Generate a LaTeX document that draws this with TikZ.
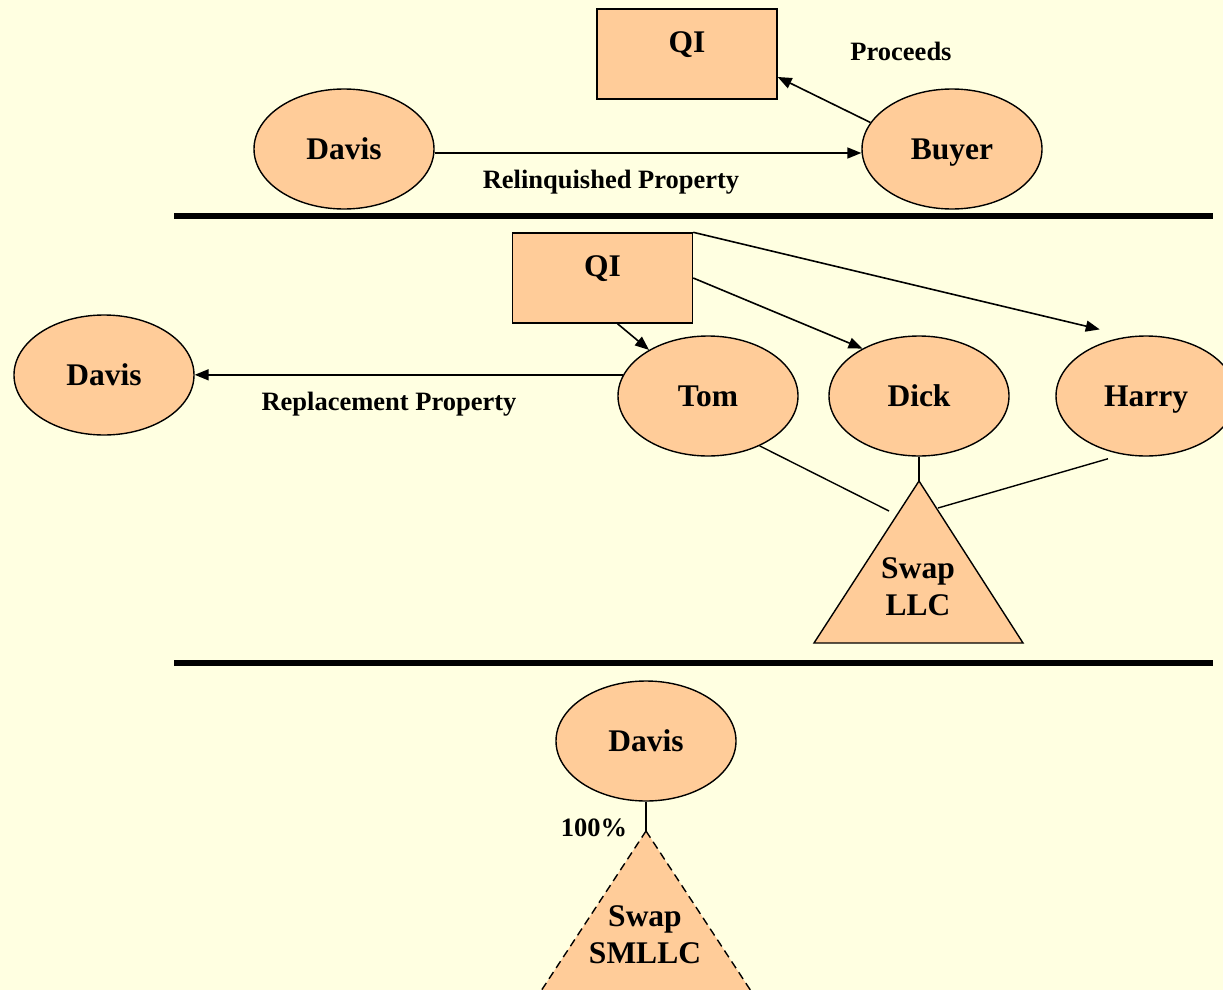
\documentclass[tikz,border=0pt]{standalone}
\usepackage{fontspec}
\setmainfont{Liberation Serif}
\usetikzlibrary{shapes.geometric,arrows.meta}
\definecolor{paper}{RGB}{255,255,225}
\definecolor{peach}{RGB}{255,204,153}
\newcommand{\namefont}{\fontsize{31.5}{37}\selectfont\bfseries}
\newcommand{\labelfont}{\fontsize{26.5}{30}\selectfont\bfseries}

\begin{document}
\begin{tikzpicture}[x=1pt,y=-1pt,
  party/.style={ellipse, draw, fill=peach, line width=1.4pt,
    minimum width=180pt, minimum height=120pt, inner sep=0pt,
    text height=21.3pt, text depth=0pt, font=\namefont},
  qibox/.style={rectangle, draw, fill=peach, line width=1.4pt,
    minimum width=180pt, minimum height=90pt, inner sep=0pt,
    text depth=24pt, font=\namefont},
  flow/.style={line width=1.6pt, -{Triangle[length=14pt,width=11pt]}},
  tie/.style={line width=1.4pt},
  caption/.style={font=\labelfont, inner sep=0pt},
  divider/.style={line width=5.5pt},
  venture/.style={fill=peach, draw, line width=1.4pt, line join=miter},
  ventext/.style={font=\namefont, align=center, inner sep=0pt},
]
\useasboundingbox (0,0) rectangle (1223,990);
\clip (0,0) rectangle (1223,990);
\fill[paper] (0,0) rectangle (1223,990);

% ---------- sale of the relinquished property ----------
\node[qibox] (qi1) at (687,54) {QI};
\node[party] (davis1) at (344,149) {Davis};
\node[party] (buyer) at (952,149) {Buyer};
\draw[flow] ([yshift=-4pt]davis1.east) -- ([yshift=-4pt]buyer.west);
\draw[flow] (buyer.162) -- ([yshift=-23pt]qi1.east);
\node[caption] (relq) at (611,182) {Relinquished Property};
\node[caption] (proc) at (901,51) {Proceeds};

\draw[divider] (174,216) -- (1213,216);

% ---------- purchase through the swap LLC ----------
\node[qibox] (qi2) at (602.5,278) {QI};
\node[party] (davis2) at (104,375) {Davis};
\node[party] (tom) at (708,396) {Tom};
\node[party] (dick) at (919,396) {Dick};
\node[party] (harry) at (1146,396) {Harry};

\coordinate (swapTop) at (919,481);
\coordinate (swapL) at (814,643);
\coordinate (swapR) at (1023,643);
\draw[venture] (swapTop) -- (swapR) -- (swapL) -- cycle;
\node[ventext] (swaptxt) at (918,587) {Swap\\LLC};

\draw[flow] (tom.166) -- (tom.166 -| davis2.east);
\node[caption] (repl) at (389,404) {Replacement Property};
\draw[flow] ([xshift=15pt]qi2.south) -- (tom.142);
\draw[flow] (qi2.east) -- (dick.140);
\draw[flow, shorten >=30pt] (qi2.north east) -- (harry.106);

\coordinate (tomfoot) at (889,511);
\coordinate (harryfoot) at (938,508);
\draw[tie] (tom.-44) -- (tomfoot);
\draw[tie] (dick.south) -- (swapTop);
\draw[tie, shorten <=15pt] (harry.248) -- (harryfoot);

\draw[divider] (174,663) -- (1213,663);

% ---------- single-member LLC ----------
\node[party] (davis3) at (646,741) {Davis};
\coordinate (smTop) at (646,831);
\coordinate (smL) at (541,991);
\coordinate (smR) at (751,991);
\draw[venture, dash pattern=on 8pt off 5pt] (smTop) -- (smR) -- (smL) -- cycle;
\node[ventext] (smtxt) at (645,935) {Swap\\SMLLC};
\draw[tie] (davis3.south) -- (smTop);
\node[caption] (pct) at (594,828) {100\%};
\end{tikzpicture}
\end{document}
